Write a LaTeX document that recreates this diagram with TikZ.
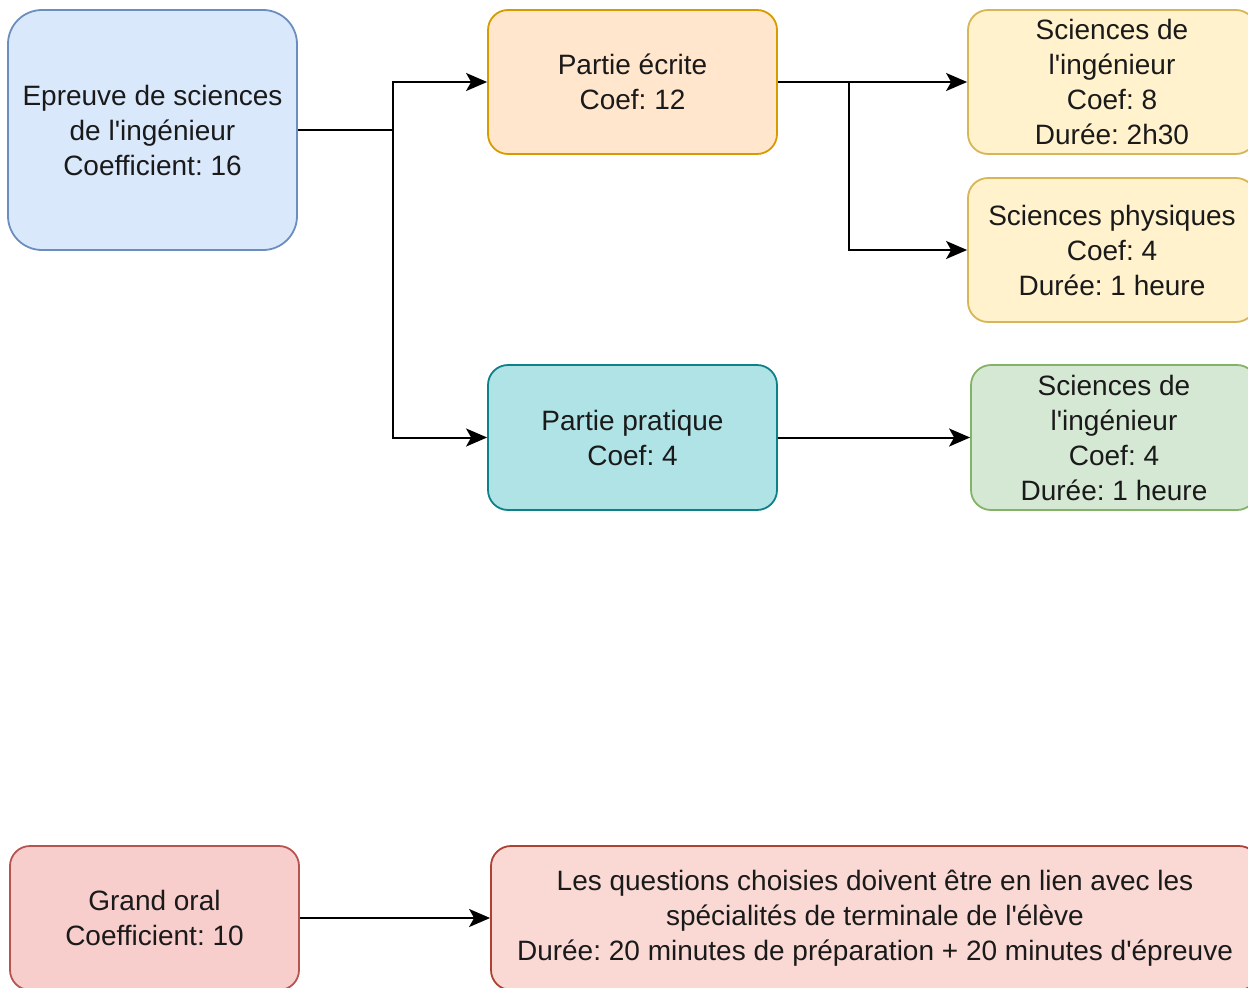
\documentclass[tikz,border=0pt]{standalone}
\usepackage{fontspec}
\setmainfont{Liberation Sans}
\frenchspacing
\usetikzlibrary{arrows.meta}
\definecolor{blueF}{HTML}{DAE8FC}\definecolor{blueS}{HTML}{6C8EBF}
\definecolor{orangeF}{HTML}{FFE6CC}\definecolor{orangeS}{HTML}{D79B00}
\definecolor{yellowF}{HTML}{FFF2CC}\definecolor{yellowS}{HTML}{D6B656}
\definecolor{tealF}{HTML}{B0E3E6}\definecolor{tealS}{HTML}{0E8088}
\definecolor{greenF}{HTML}{D5E8D4}\definecolor{greenS}{HTML}{82B366}
\definecolor{redF}{HTML}{F8CECC}\definecolor{redS}{HTML}{B85450}
\definecolor{pinkF}{HTML}{FAD9D5}\definecolor{pinkS}{HTML}{AE4132}
\definecolor{txt}{HTML}{1A1A1A}
\newcommand{\apo}{\textquotesingle}
\tikzset{
  box/.style={draw, line width=1.8pt, rounded corners=20pt, inner sep=0pt,
    minimum width=289pt, minimum height=144pt, align=center, text=txt,
    font=\fontsize{28}{35}\selectfont},
  conn/.style={line width=2pt, -{Stealth[length=21pt,width=18pt,inset=5pt]}},
  plain/.style={line width=2pt}
}
\begin{document}
\begin{tikzpicture}[x=1pt,y=-1pt]
\useasboundingbox (0,0) rectangle (1248,988);
\clip (0,0) rectangle (1248,988);
\node[box, fill=blueF, draw=blueS, minimum height=240pt, rounded corners=34pt] (A) at (152.5,130) {Epreuve de sciences\\de l\apo ingénieur\\Coefficient: 16};
\node[box, fill=orangeF, draw=orangeS] (B) at (632.5,82) {Partie écrite\\Coef: 12};
\node[box, fill=yellowF, draw=yellowS, minimum width=288pt] (C) at (1112,82) {Sciences de\\l\apo ingénieur\\Coef: 8\\Durée: 2h30};
\node[box, fill=yellowF, draw=yellowS, minimum width=288pt] (D) at (1112,250) {Sciences physiques\\Coef: 4\\Durée: 1 heure};
\node[box, fill=tealF, draw=tealS, minimum height=145pt] (E) at (632.5,437.5) {Partie pratique\\Coef: 4};
\node[box, fill=greenF, draw=greenS, minimum width=286pt, minimum height=145pt] (F) at (1114,437.5) {Sciences de\\l\apo ingénieur\\Coef: 4\\Durée: 1 heure};
\node[box, fill=redF, draw=redS] (G) at (154.5,918) {Grand oral\\Coefficient: 10};
\node[box, fill=pinkF, draw=pinkS, minimum width=768pt] (H) at (875,918) {Les questions choisies doivent être en lien avec les\\spécialités de terminale de l\apo élève\\Durée: 20 minutes de préparation + 20 minutes d\apo épreuve};
\coordinate (j1) at (393,130);
\coordinate (j2) at (849,82);
\draw[plain] (A.east) -- (j1);
\draw[conn] (j1) |- (B.west);
\draw[conn] (j1) |- (E.west);
\draw[conn] (B.east) -- (C.west);
\draw[conn] (j2) |- (D.west);
\draw[conn] (E.east) -- (F.west);
\draw[conn] (G.east) -- (H.west);
\end{tikzpicture}
\end{document}
